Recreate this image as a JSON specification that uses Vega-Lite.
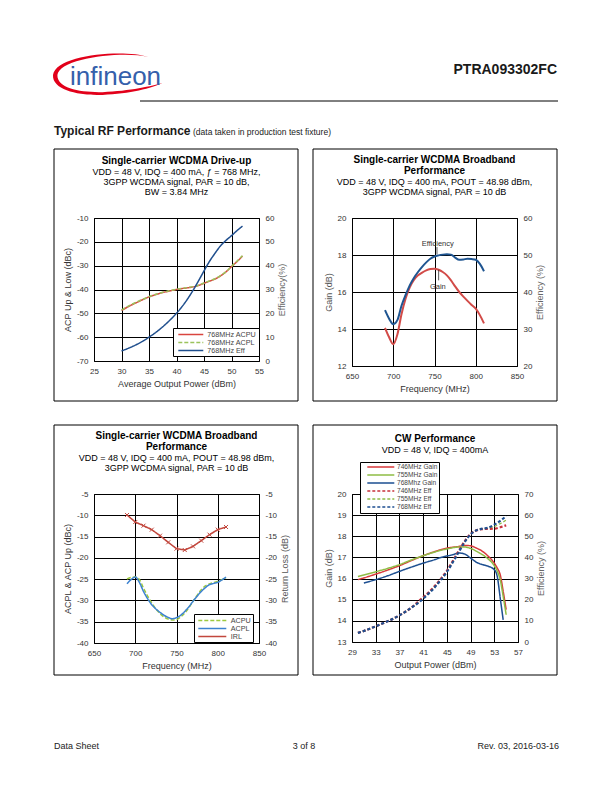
{
"$schema": "https://vega.github.io/schema/vega-lite/v6.json",
"padding": 0,
"autosize": {"type": "pad"},
"background": "white",
"config": {
  "font": "Liberation Sans",
  "view": {"stroke": "black", "strokeWidth": 1},
  "axis": {"domain": false, "ticks": false, "grid": false, "labelFont": "Liberation Sans", "labelFontSize": 8, "labelColor": "#333", "titleFont": "Liberation Sans", "titleFontSize": 9, "titleFontWeight": "normal", "titleColor": "#333", "labelPadding": 6, "titlePadding": 4, "labelFlush": false, "labelOverlap": false, "gridColor": "black", "gridOpacity": 1, "gridWidth": 1},
  "legend": {"labelFont": "Liberation Sans", "labelColor": "#444", "rowPadding": 0},
  "title": {"font": "Liberation Sans", "fontSize": 10, "fontWeight": "bold", "color": "black", "subtitleFont": "Liberation Sans", "subtitleFontSize": 9, "subtitleColor": "black", "anchor": "middle", "frame": "group", "lineHeight": 11, "subtitleLineHeight": 10, "subtitlePadding": 2}
},
"datasets": {
  "p1acp": [
    {"pout":30,"acp":-48.8,"series":"768MHz ACPU"},{"pout":31,"acp":-47.5,"series":"768MHz ACPU"},{"pout":32,"acp":-46.3,"series":"768MHz ACPU"},{"pout":33,"acp":-45.2,"series":"768MHz ACPU"},{"pout":34,"acp":-44.1,"series":"768MHz ACPU"},{"pout":35,"acp":-43.1,"series":"768MHz ACPU"},{"pout":36,"acp":-42.3,"series":"768MHz ACPU"},{"pout":37,"acp":-41.6,"series":"768MHz ACPU"},{"pout":38,"acp":-41.0,"series":"768MHz ACPU"},{"pout":39,"acp":-40.5,"series":"768MHz ACPU"},{"pout":40,"acp":-40.0,"series":"768MHz ACPU"},{"pout":41,"acp":-39.6,"series":"768MHz ACPU"},{"pout":42,"acp":-39.3,"series":"768MHz ACPU"},{"pout":43,"acp":-38.9,"series":"768MHz ACPU"},{"pout":44,"acp":-38.3,"series":"768MHz ACPU"},{"pout":45,"acp":-37.4,"series":"768MHz ACPU"},{"pout":46,"acp":-36.5,"series":"768MHz ACPU"},{"pout":47,"acp":-35.6,"series":"768MHz ACPU"},{"pout":48,"acp":-34.3,"series":"768MHz ACPU"},{"pout":49,"acp":-32.6,"series":"768MHz ACPU"},{"pout":50,"acp":-30.4,"series":"768MHz ACPU"},{"pout":51,"acp":-28.3,"series":"768MHz ACPU"},{"pout":52,"acp":-26.0,"series":"768MHz ACPU"},
    {"pout":30,"acp":-48.6,"series":"768MHz ACPL"},{"pout":31,"acp":-47.3,"series":"768MHz ACPL"},{"pout":32,"acp":-46.1,"series":"768MHz ACPL"},{"pout":33,"acp":-45.0,"series":"768MHz ACPL"},{"pout":34,"acp":-44.0,"series":"768MHz ACPL"},{"pout":35,"acp":-43.0,"series":"768MHz ACPL"},{"pout":36,"acp":-42.2,"series":"768MHz ACPL"},{"pout":37,"acp":-41.5,"series":"768MHz ACPL"},{"pout":38,"acp":-40.9,"series":"768MHz ACPL"},{"pout":39,"acp":-40.4,"series":"768MHz ACPL"},{"pout":40,"acp":-39.9,"series":"768MHz ACPL"},{"pout":41,"acp":-39.5,"series":"768MHz ACPL"},{"pout":42,"acp":-39.2,"series":"768MHz ACPL"},{"pout":43,"acp":-38.8,"series":"768MHz ACPL"},{"pout":44,"acp":-38.2,"series":"768MHz ACPL"},{"pout":45,"acp":-37.3,"series":"768MHz ACPL"},{"pout":46,"acp":-36.4,"series":"768MHz ACPL"},{"pout":47,"acp":-35.5,"series":"768MHz ACPL"},{"pout":48,"acp":-34.2,"series":"768MHz ACPL"},{"pout":49,"acp":-32.5,"series":"768MHz ACPL"},{"pout":50,"acp":-30.3,"series":"768MHz ACPL"},{"pout":51,"acp":-28.1,"series":"768MHz ACPL"},{"pout":52,"acp":-25.8,"series":"768MHz ACPL"}
  ],
  "p1eff": [
    {"pout":30,"eff":4.2,"series":"768MHz Eff"},{"pout":31,"eff":5.1,"series":"768MHz Eff"},{"pout":32,"eff":6.1,"series":"768MHz Eff"},{"pout":33,"eff":7.2,"series":"768MHz Eff"},{"pout":34,"eff":8.5,"series":"768MHz Eff"},{"pout":35,"eff":10.0,"series":"768MHz Eff"},{"pout":36,"eff":11.6,"series":"768MHz Eff"},{"pout":37,"eff":13.4,"series":"768MHz Eff"},{"pout":38,"eff":15.4,"series":"768MHz Eff"},{"pout":39,"eff":17.6,"series":"768MHz Eff"},{"pout":40,"eff":20.0,"series":"768MHz Eff"},{"pout":41,"eff":22.8,"series":"768MHz Eff"},{"pout":42,"eff":26.0,"series":"768MHz Eff"},{"pout":43,"eff":29.6,"series":"768MHz Eff"},{"pout":44,"eff":33.6,"series":"768MHz Eff"},{"pout":45,"eff":37.8,"series":"768MHz Eff"},{"pout":46,"eff":41.8,"series":"768MHz Eff"},{"pout":47,"eff":45.2,"series":"768MHz Eff"},{"pout":48,"eff":48.3,"series":"768MHz Eff"},{"pout":49,"eff":50.6,"series":"768MHz Eff"},{"pout":50,"eff":52.6,"series":"768MHz Eff"},{"pout":51,"eff":54.7,"series":"768MHz Eff"},{"pout":52,"eff":56.6,"series":"768MHz Eff"}
  ],
  "p2gain": [
    {"f":690,"gain":14.06},{"f":695,"gain":13.55},{"f":700,"gain":13.18},{"f":705,"gain":13.7},{"f":710,"gain":14.8},{"f":715,"gain":15.65},{"f":720,"gain":16.25},{"f":725,"gain":16.65},{"f":730,"gain":16.9},{"f":735,"gain":17.05},{"f":740,"gain":17.17},{"f":745,"gain":17.24},{"f":750,"gain":17.26},{"f":755,"gain":17.2},{"f":760,"gain":17.08},{"f":765,"gain":16.9},{"f":770,"gain":16.63},{"f":775,"gain":16.3},{"f":780,"gain":16.0},{"f":785,"gain":15.75},{"f":790,"gain":15.52},{"f":795,"gain":15.3},{"f":800,"gain":15.1},{"f":805,"gain":14.75},{"f":810,"gain":14.3}
  ],
  "p2eff": [
    {"f":690,"eff":35.1},{"f":695,"eff":32.8},{"f":700,"eff":31.3},{"f":705,"eff":32.4},{"f":710,"eff":36.3},{"f":715,"eff":39.2},{"f":720,"eff":41.8},{"f":725,"eff":43.8},{"f":730,"eff":45.4},{"f":735,"eff":46.8},{"f":740,"eff":48.0},{"f":745,"eff":49.0},{"f":750,"eff":49.6},{"f":755,"eff":49.9},{"f":760,"eff":50.1},{"f":765,"eff":50.2},{"f":770,"eff":50.1},{"f":775,"eff":49.3},{"f":780,"eff":48.7},{"f":785,"eff":48.8},{"f":790,"eff":49.0},{"f":795,"eff":48.9},{"f":800,"eff":48.7},{"f":805,"eff":47.6},{"f":810,"eff":45.6}
  ],
  "p2notes": [
    {"label":"Efficiency","f":754,"gain":18.61},{"label":"Gain","f":754,"gain":16.27}
  ],
  "p2leaders": [
    {"f":753,"g1":18.43,"g2":18.04},{"f":755,"g1":17.2,"g2":16.63}
  ],
  "p3acp": [
    {"f":690,"acp":-24.97,"series":"ACPU"},{"f":695,"acp":-24.6,"series":"ACPU"},{"f":700,"acp":-24.5,"series":"ACPU"},{"f":705,"acp":-25.1,"series":"ACPU"},{"f":710,"acp":-27.1,"series":"ACPU"},{"f":715,"acp":-29.0,"series":"ACPU"},{"f":720,"acp":-30.6,"series":"ACPU"},{"f":725,"acp":-32.0,"series":"ACPU"},{"f":730,"acp":-33.1,"series":"ACPU"},{"f":735,"acp":-33.9,"series":"ACPU"},{"f":740,"acp":-34.4,"series":"ACPU"},{"f":745,"acp":-34.6,"series":"ACPU"},{"f":750,"acp":-34.5,"series":"ACPU"},{"f":755,"acp":-33.9,"series":"ACPU"},{"f":760,"acp":-32.95,"series":"ACPU"},{"f":765,"acp":-31.7,"series":"ACPU"},{"f":770,"acp":-30.2,"series":"ACPU"},{"f":775,"acp":-28.8,"series":"ACPU"},{"f":780,"acp":-27.5,"series":"ACPU"},{"f":785,"acp":-26.6,"series":"ACPU"},{"f":790,"acp":-26.1,"series":"ACPU"},{"f":795,"acp":-25.8,"series":"ACPU"},{"f":800,"acp":-25.5,"series":"ACPU"},{"f":805,"acp":-25.1,"series":"ACPU"},{"f":810,"acp":-24.7,"series":"ACPU"},
    {"f":690,"acp":-26.1,"series":"ACPL"},{"f":695,"acp":-25.1,"series":"ACPL"},{"f":700,"acp":-24.5,"series":"ACPL"},{"f":705,"acp":-25.75,"series":"ACPL"},{"f":710,"acp":-27.9,"series":"ACPL"},{"f":715,"acp":-29.6,"series":"ACPL"},{"f":720,"acp":-31.0,"series":"ACPL"},{"f":725,"acp":-32.0,"series":"ACPL"},{"f":730,"acp":-32.8,"series":"ACPL"},{"f":735,"acp":-33.5,"series":"ACPL"},{"f":740,"acp":-34.0,"series":"ACPL"},{"f":745,"acp":-34.3,"series":"ACPL"},{"f":750,"acp":-34.05,"series":"ACPL"},{"f":755,"acp":-33.5,"series":"ACPL"},{"f":760,"acp":-32.6,"series":"ACPL"},{"f":765,"acp":-31.5,"series":"ACPL"},{"f":770,"acp":-30.2,"series":"ACPL"},{"f":775,"acp":-29.0,"series":"ACPL"},{"f":780,"acp":-27.9,"series":"ACPL"},{"f":785,"acp":-27.0,"series":"ACPL"},{"f":790,"acp":-26.3,"series":"ACPL"},{"f":795,"acp":-26.0,"series":"ACPL"},{"f":800,"acp":-25.75,"series":"ACPL"},{"f":805,"acp":-25.2,"series":"ACPL"},{"f":810,"acp":-24.5,"series":"ACPL"}
  ],
  "p3irl": [
    {"f":690,"rl":-9.93,"series":"IRL"},{"f":700,"rl":-11.58,"series":"IRL"},{"f":710,"rl":-12.44,"series":"IRL"},{"f":720,"rl":-13.38,"series":"IRL"},{"f":730,"rl":-14.79,"series":"IRL"},{"f":740,"rl":-16.35,"series":"IRL"},{"f":750,"rl":-17.84,"series":"IRL"},{"f":760,"rl":-18.16,"series":"IRL"},{"f":770,"rl":-17.3,"series":"IRL"},{"f":780,"rl":-15.96,"series":"IRL"},{"f":790,"rl":-14.55,"series":"IRL"},{"f":800,"rl":-13.38,"series":"IRL"},{"f":810,"rl":-12.75,"series":"IRL"}
  ],
  "p4gain": [
    {"pout":30,"gain":15.95,"series":"746MHz Gain"},{"pout":31,"gain":16.03,"series":"746MHz Gain"},{"pout":33,"gain":16.21,"series":"746MHz Gain"},{"pout":35,"gain":16.4,"series":"746MHz Gain"},{"pout":37,"gain":16.61,"series":"746MHz Gain"},{"pout":39,"gain":16.85,"series":"746MHz Gain"},{"pout":41,"gain":17.08,"series":"746MHz Gain"},{"pout":43,"gain":17.28,"series":"746MHz Gain"},{"pout":45,"gain":17.44,"series":"746MHz Gain"},{"pout":47,"gain":17.52,"series":"746MHz Gain"},{"pout":48,"gain":17.57,"series":"746MHz Gain"},{"pout":49,"gain":17.55,"series":"746MHz Gain"},{"pout":50,"gain":17.44,"series":"746MHz Gain"},{"pout":51,"gain":17.29,"series":"746MHz Gain"},{"pout":52,"gain":17.05,"series":"746MHz Gain"},{"pout":53,"gain":16.73,"series":"746MHz Gain"},{"pout":53.5,"gain":16.5,"series":"746MHz Gain"},{"pout":54,"gain":16.18,"series":"746MHz Gain"},{"pout":54.5,"gain":15.4,"series":"746MHz Gain"},{"pout":55,"gain":14.53,"series":"746MHz Gain"},
    {"pout":30,"gain":16.1,"series":"755MHz Gain"},{"pout":31,"gain":16.17,"series":"755MHz Gain"},{"pout":33,"gain":16.32,"series":"755MHz Gain"},{"pout":35,"gain":16.48,"series":"755MHz Gain"},{"pout":37,"gain":16.66,"series":"755MHz Gain"},{"pout":39,"gain":16.88,"series":"755MHz Gain"},{"pout":41,"gain":17.08,"series":"755MHz Gain"},{"pout":43,"gain":17.26,"series":"755MHz Gain"},{"pout":45,"gain":17.4,"series":"755MHz Gain"},{"pout":47,"gain":17.49,"series":"755MHz Gain"},{"pout":48,"gain":17.49,"series":"755MHz Gain"},{"pout":49,"gain":17.43,"series":"755MHz Gain"},{"pout":50,"gain":17.29,"series":"755MHz Gain"},{"pout":51,"gain":17.13,"series":"755MHz Gain"},{"pout":52,"gain":16.92,"series":"755MHz Gain"},{"pout":53,"gain":16.61,"series":"755MHz Gain"},{"pout":53.5,"gain":16.35,"series":"755MHz Gain"},{"pout":54,"gain":15.95,"series":"755MHz Gain"},{"pout":54.5,"gain":15.16,"series":"755MHz Gain"},{"pout":55,"gain":14.29,"series":"755MHz Gain"},
    {"pout":31,"gain":15.79,"series":"768Mhz Gain"},{"pout":33,"gain":15.95,"series":"768Mhz Gain"},{"pout":35,"gain":16.13,"series":"768Mhz Gain"},{"pout":37,"gain":16.34,"series":"768Mhz Gain"},{"pout":39,"gain":16.54,"series":"768Mhz Gain"},{"pout":41,"gain":16.73,"series":"768Mhz Gain"},{"pout":43,"gain":16.9,"series":"768Mhz Gain"},{"pout":44,"gain":17.0,"series":"768Mhz Gain"},{"pout":46,"gain":17.13,"series":"768Mhz Gain"},{"pout":47,"gain":17.21,"series":"768Mhz Gain"},{"pout":48,"gain":17.16,"series":"768Mhz Gain"},{"pout":49,"gain":16.97,"series":"768Mhz Gain"},{"pout":50,"gain":16.77,"series":"768Mhz Gain"},{"pout":51,"gain":16.66,"series":"768Mhz Gain"},{"pout":52,"gain":16.58,"series":"768Mhz Gain"},{"pout":53,"gain":16.42,"series":"768Mhz Gain"},{"pout":53.5,"gain":16.1,"series":"768Mhz Gain"},{"pout":54,"gain":15.08,"series":"768Mhz Gain"},{"pout":54.5,"gain":14.05,"series":"768Mhz Gain"}
  ],
  "p4eff": [
    {"pout":30,"eff":4.3,"series":"746MHz Eff"},{"pout":31,"eff":5.2,"series":"746MHz Eff"},{"pout":32,"eff":6.3,"series":"746MHz Eff"},{"pout":33,"eff":7.4,"series":"746MHz Eff"},{"pout":34,"eff":8.6,"series":"746MHz Eff"},{"pout":35,"eff":9.8,"series":"746MHz Eff"},{"pout":36,"eff":11.1,"series":"746MHz Eff"},{"pout":37,"eff":12.6,"series":"746MHz Eff"},{"pout":38,"eff":14.3,"series":"746MHz Eff"},{"pout":39,"eff":16.2,"series":"746MHz Eff"},{"pout":40,"eff":18.7,"series":"746MHz Eff"},{"pout":41,"eff":21.1,"series":"746MHz Eff"},{"pout":42,"eff":23.7,"series":"746MHz Eff"},{"pout":43,"eff":26.6,"series":"746MHz Eff"},{"pout":44,"eff":30.0,"series":"746MHz Eff"},{"pout":45,"eff":33.7,"series":"746MHz Eff"},{"pout":46,"eff":38.3,"series":"746MHz Eff"},{"pout":47,"eff":43.1,"series":"746MHz Eff"},{"pout":48,"eff":47.6,"series":"746MHz Eff"},{"pout":49,"eff":51.1,"series":"746MHz Eff"},{"pout":50,"eff":52.8,"series":"746MHz Eff"},{"pout":51,"eff":53.4,"series":"746MHz Eff"},{"pout":52,"eff":53.5,"series":"746MHz Eff"},{"pout":53,"eff":53.6,"series":"746MHz Eff"},{"pout":54,"eff":54.3,"series":"746MHz Eff"},{"pout":55,"eff":55.2,"series":"746MHz Eff"},
    {"pout":30,"eff":4.3,"series":"755MHz Eff"},{"pout":31,"eff":5.2,"series":"755MHz Eff"},{"pout":32,"eff":6.3,"series":"755MHz Eff"},{"pout":33,"eff":7.4,"series":"755MHz Eff"},{"pout":34,"eff":8.6,"series":"755MHz Eff"},{"pout":35,"eff":9.8,"series":"755MHz Eff"},{"pout":36,"eff":11.1,"series":"755MHz Eff"},{"pout":37,"eff":12.6,"series":"755MHz Eff"},{"pout":38,"eff":14.3,"series":"755MHz Eff"},{"pout":39,"eff":16.2,"series":"755MHz Eff"},{"pout":40,"eff":18.4,"series":"755MHz Eff"},{"pout":41,"eff":20.8,"series":"755MHz Eff"},{"pout":42,"eff":23.4,"series":"755MHz Eff"},{"pout":43,"eff":26.3,"series":"755MHz Eff"},{"pout":44,"eff":29.7,"series":"755MHz Eff"},{"pout":45,"eff":33.4,"series":"755MHz Eff"},{"pout":46,"eff":38.0,"series":"755MHz Eff"},{"pout":47,"eff":42.8,"series":"755MHz Eff"},{"pout":48,"eff":47.4,"series":"755MHz Eff"},{"pout":49,"eff":51.0,"series":"755MHz Eff"},{"pout":50,"eff":52.8,"series":"755MHz Eff"},{"pout":51,"eff":53.5,"series":"755MHz Eff"},{"pout":52,"eff":53.8,"series":"755MHz Eff"},{"pout":53,"eff":54.6,"series":"755MHz Eff"},{"pout":54,"eff":56.0,"series":"755MHz Eff"},{"pout":55,"eff":57.6,"series":"755MHz Eff"},
    {"pout":30,"eff":4.3,"series":"768MHz Eff"},{"pout":31,"eff":5.2,"series":"768MHz Eff"},{"pout":32,"eff":6.3,"series":"768MHz Eff"},{"pout":33,"eff":7.4,"series":"768MHz Eff"},{"pout":34,"eff":8.6,"series":"768MHz Eff"},{"pout":35,"eff":9.8,"series":"768MHz Eff"},{"pout":36,"eff":11.1,"series":"768MHz Eff"},{"pout":37,"eff":12.6,"series":"768MHz Eff"},{"pout":38,"eff":14.3,"series":"768MHz Eff"},{"pout":39,"eff":16.2,"series":"768MHz Eff"},{"pout":40,"eff":18.1,"series":"768MHz Eff"},{"pout":41,"eff":20.5,"series":"768MHz Eff"},{"pout":42,"eff":23.1,"series":"768MHz Eff"},{"pout":43,"eff":26.0,"series":"768MHz Eff"},{"pout":44,"eff":29.4,"series":"768MHz Eff"},{"pout":45,"eff":33.1,"series":"768MHz Eff"},{"pout":46,"eff":37.7,"series":"768MHz Eff"},{"pout":47,"eff":42.5,"series":"768MHz Eff"},{"pout":48,"eff":47.2,"series":"768MHz Eff"},{"pout":49,"eff":50.9,"series":"768MHz Eff"},{"pout":50,"eff":52.8,"series":"768MHz Eff"},{"pout":51,"eff":53.6,"series":"768MHz Eff"},{"pout":52,"eff":54.1,"series":"768MHz Eff"},{"pout":53,"eff":55.5,"series":"768MHz Eff"},{"pout":54,"eff":57.3,"series":"768MHz Eff"},{"pout":55,"eff":59.5,"series":"768MHz Eff"}
  ]
},
"columns": 2,
"bounds": "flush",
"align": "each",
"spacing": {"row": 128, "column": 93},
"resolve": {"scale": {"color": "independent", "strokeDash": "independent"}, "legend": {"color": "independent", "strokeDash": "independent"}},
"concat": [
  {
    "width": 165, "height": 1, "view": {"stroke": null},
    "data": {"values": [{"k": 1}]},
    "layer": [
      {"mark": {"type": "rect", "opacity": 0}, "encoding": {"x": {"value": -94}, "x2": {"value": 518}, "y": {"value": -89}, "y2": {"value": 703}}},
      {"mark": {"type": "point", "shape": "M0.73,-0.31 C0.3,-0.45 -0.95,-0.36 -1,0.02 C-1.02,0.3 -0.5,0.4 -0.1,0.38 C0.4,0.36 0.8,0.26 1,0.16 C0.8,0.22 0.4,0.31 -0.1,0.33 C-0.5,0.34 -0.93,0.26 -0.92,0.02 C-0.88,-0.3 0.3,-0.42 0.73,-0.31 Z", "size": 12100, "filled": true, "color": "#e2001a", "strokeWidth": 0, "opacity": 1}, "encoding": {"x": {"value": 14}, "y": {"value": -15}}},
      {"mark": {"type": "text", "text": "infineon", "font": "Liberation Sans", "fontSize": 26, "color": "#3560ab", "align": "left", "baseline": "alphabetic"}, "encoding": {"x": {"value": -24}, "y": {"value": -4}}},
      {"mark": {"type": "text", "text": "PTRA093302FC", "font": "Liberation Sans", "fontSize": 14, "fontWeight": "bold", "color": "#1a1a1a", "align": "right", "baseline": "alphabetic"}, "encoding": {"x": {"value": 463}, "y": {"value": -15}}},
      {"mark": {"type": "rule", "color": "black", "strokeWidth": 1}, "encoding": {"x": {"value": 46}, "x2": {"value": 464}, "y": {"value": 12}}},
      {"mark": {"type": "text", "text": "Typical RF Performance", "font": "Liberation Sans", "fontSize": 12, "fontWeight": "bold", "color": "#1a1a1a", "align": "left", "baseline": "alphabetic"}, "encoding": {"x": {"value": -40}, "y": {"value": 46}}},
      {"mark": {"type": "text", "text": "(data taken in production test fixture)", "font": "Liberation Sans", "fontSize": 8.5, "color": "#1a1a1a", "align": "left", "baseline": "alphabetic"}, "encoding": {"x": {"value": 99}, "y": {"value": 46}}},
      {"mark": {"type": "rect", "filled": false, "stroke": "black", "strokeWidth": 1}, "encoding": {"x": {"value": -40}, "x2": {"value": 204}, "y": {"value": 60}, "y2": {"value": 312}}},
      {"mark": {"type": "rect", "filled": false, "stroke": "black", "strokeWidth": 1}, "encoding": {"x": {"value": -40}, "x2": {"value": 204}, "y": {"value": 336}, "y2": {"value": 586}}},
      {"mark": {"type": "text", "text": "Data Sheet", "font": "Liberation Sans", "fontSize": 9, "color": "#222", "align": "left", "baseline": "alphabetic"}, "encoding": {"x": {"value": -40}, "y": {"value": 660}}},
      {"mark": {"type": "text", "text": "3 of 8", "font": "Liberation Sans", "fontSize": 9, "color": "#222", "align": "center", "baseline": "alphabetic"}, "encoding": {"x": {"value": 210}, "y": {"value": 660}}},
      {"mark": {"type": "text", "text": "Rev. 03, 2016-03-16", "font": "Liberation Sans", "fontSize": 9, "color": "#222", "align": "right", "baseline": "alphabetic"}, "encoding": {"x": {"value": 465}, "y": {"value": 660}}}
    ]
  },
  {
    "width": 165, "height": 1, "view": {"stroke": null},
    "data": {"values": [{"k": 1}]},
    "layer": [
      {"mark": {"type": "rect", "filled": false, "stroke": "black", "strokeWidth": 1}, "encoding": {"x": {"value": -39}, "x2": {"value": 205}, "y": {"value": 60}, "y2": {"value": 312}}},
      {"mark": {"type": "rect", "filled": false, "stroke": "black", "strokeWidth": 1}, "encoding": {"x": {"value": -39}, "x2": {"value": 205}, "y": {"value": 336}, "y2": {"value": 586}}}
    ]
  },
  {
    "width": 165, "height": 143,
    "title": {"text": "Single-carrier WCDMA Drive-up", "subtitle": ["VDD = 48 V, IDQ = 400 mA, ƒ = 768 MHz,", "3GPP WCDMA signal, PAR = 10 dB,", "BW = 3.84 MHz"], "offset": 17},
    "resolve": {"scale": {"y": "independent"}},
    "layer": [
      {
        "data": {"name": "p1acp"},
        "mark": {"type": "line", "strokeWidth": 1.5, "interpolate": "monotone"},
        "encoding": {
          "x": {"field": "pout", "type": "quantitative", "title": "Average Output Power (dBm)", "scale": {"domain": [25, 55], "nice": false}, "axis": {"values": [25, 30, 35, 40, 45, 50, 55], "grid": true}},
          "y": {"field": "acp", "type": "quantitative", "title": "ACP Up & Low (dBc)", "scale": {"domain": [-70, -10], "nice": false, "zero": false}, "axis": {"values": [-70, -60, -50, -40, -30, -20, -10], "grid": true, "labelExpr": "'' + datum.value"}},
          "color": {"field": "series", "type": "nominal", "scale": {"domain": ["768MHz ACPU", "768MHz ACPL", "768MHz Eff"], "range": ["#d9453f", "#9bc35c", "#1f4e8d"]}, "legend": {"title": null, "orient": "none", "legendX": 79, "legendY": 110, "direction": "vertical", "strokeColor": "black", "fillColor": "white", "padding": 2, "symbolType": "M-3.57,0L3.57,0", "symbolSize": 49, "symbolOffset": 11.3, "labelOffset": 12, "symbolStrokeWidth": 1.5, "labelFontSize": 7.2, "rowPadding": 0}},
          "strokeDash": {"field": "series", "type": "nominal", "scale": {"domain": ["768MHz ACPU", "768MHz ACPL", "768MHz Eff"], "range": [[1, 0], [4, 2], [1, 0]]}, "legend": {"title": null, "orient": "none", "legendX": 79, "legendY": 110, "direction": "vertical", "strokeColor": "black", "fillColor": "white", "padding": 2, "symbolType": "M-3.57,0L3.57,0", "symbolSize": 49, "symbolOffset": 11.3, "labelOffset": 12, "symbolStrokeWidth": 1.5, "labelFontSize": 7.2, "rowPadding": 0}}
        }
      },
      {
        "data": {"name": "p1eff"},
        "mark": {"type": "line", "strokeWidth": 1.5, "interpolate": "monotone"},
        "encoding": {
          "x": {"field": "pout", "type": "quantitative", "title": "Average Output Power (dBm)", "scale": {"domain": [25, 55], "nice": false}, "axis": {"values": [25, 30, 35, 40, 45, 50, 55], "grid": true}},
          "y": {"field": "eff", "type": "quantitative", "title": "Efficiency(%)", "scale": {"domain": [0, 60], "nice": false}, "axis": {"orient": "right", "values": [0, 10, 20, 30, 40, 50, 60], "titleColor": "#666", "titleAngle": -90, "titleBaseline": "top"}},
          "color": {"field": "series", "type": "nominal", "scale": {"domain": ["768MHz ACPU", "768MHz ACPL", "768MHz Eff"], "range": ["#d9453f", "#9bc35c", "#1f4e8d"]}, "legend": {"title": null, "orient": "none", "legendX": 79, "legendY": 110, "direction": "vertical", "strokeColor": "black", "fillColor": "white", "padding": 2, "symbolType": "M-3.57,0L3.57,0", "symbolSize": 49, "symbolOffset": 11.3, "labelOffset": 12, "symbolStrokeWidth": 1.5, "labelFontSize": 7.2, "rowPadding": 0}},
          "strokeDash": {"field": "series", "type": "nominal", "scale": {"domain": ["768MHz ACPU", "768MHz ACPL", "768MHz Eff"], "range": [[1, 0], [4, 2], [1, 0]]}, "legend": {"title": null, "orient": "none", "legendX": 79, "legendY": 110, "direction": "vertical", "strokeColor": "black", "fillColor": "white", "padding": 2, "symbolType": "M-3.57,0L3.57,0", "symbolSize": 49, "symbolOffset": 11.3, "labelOffset": 12, "symbolStrokeWidth": 1.5, "labelFontSize": 7.2, "rowPadding": 0}}
        }
      }
    ]
  },
  {
    "width": 165, "height": 148,
    "title": {"text": ["Single-carrier WCDMA Broadband", "Performance"], "subtitle": ["VDD = 48 V, IDQ = 400 mA, POUT = 48.98 dBm,", "3GPP WCDMA signal, PAR = 10 dB"], "offset": 17},
    "resolve": {"scale": {"y": "independent"}},
    "layer": [
      {
        "layer": [
          {
            "data": {"name": "p2gain"},
            "mark": {"type": "line", "color": "#d24b48", "strokeWidth": 2, "interpolate": "monotone"},
            "encoding": {
              "x": {"field": "f", "type": "quantitative", "title": "Frequency (MHz)", "scale": {"domain": [650, 850], "nice": false}, "axis": {"values": [650, 700, 750, 800, 850], "grid": true}},
              "y": {"field": "gain", "type": "quantitative", "title": "Gain (dB)", "scale": {"domain": [12, 20], "nice": false, "zero": false}, "axis": {"values": [12, 14, 16, 18, 20], "grid": true, "titleColor": "#555"}}
            }
          },
          {
            "data": {"name": "p2notes"},
            "mark": {"type": "text", "fontSize": 7.5, "color": "#333"},
            "encoding": {
              "x": {"field": "f", "type": "quantitative", "title": "Frequency (MHz)", "scale": {"domain": [650, 850], "nice": false}, "axis": {"values": [650, 700, 750, 800, 850], "grid": true}},
              "y": {"field": "gain", "type": "quantitative", "title": "Gain (dB)", "scale": {"domain": [12, 20], "nice": false, "zero": false}, "axis": {"values": [12, 14, 16, 18, 20], "grid": true, "titleColor": "#555"}},
              "text": {"field": "label"}
            }
          },
          {
            "data": {"name": "p2leaders"},
            "mark": {"type": "rule", "color": "#333", "strokeWidth": 0.8},
            "encoding": {
              "x": {"field": "f", "type": "quantitative", "title": "Frequency (MHz)", "scale": {"domain": [650, 850], "nice": false}, "axis": {"values": [650, 700, 750, 800, 850], "grid": true}},
              "y": {"field": "g1", "type": "quantitative", "title": "Gain (dB)", "scale": {"domain": [12, 20], "nice": false, "zero": false}, "axis": {"values": [12, 14, 16, 18, 20], "grid": true, "titleColor": "#555"}},
              "y2": {"field": "g2"}
            }
          }
        ]
      },
      {
        "data": {"name": "p2eff"},
        "mark": {"type": "line", "color": "#1f5591", "strokeWidth": 2, "interpolate": "monotone"},
        "encoding": {
          "x": {"field": "f", "type": "quantitative", "title": "Frequency (MHz)", "scale": {"domain": [650, 850], "nice": false}, "axis": {"values": [650, 700, 750, 800, 850], "grid": true}},
          "y": {"field": "eff", "type": "quantitative", "title": "Efficiency (%)", "scale": {"domain": [20, 60], "nice": false, "zero": false}, "axis": {"orient": "right", "values": [20, 30, 40, 50, 60], "titleColor": "#666", "titleAngle": -90, "titleBaseline": "top"}}
        }
      }
    ]
  },
  {
    "width": 165, "height": 149,
    "title": {"text": ["Single-carrier WCDMA Broadband", "Performance"], "subtitle": ["VDD = 48 V, IDQ = 400 mA, POUT = 48.98 dBm,", "3GPP WCDMA signal, PAR = 10 dB"], "offset": 17},
    "resolve": {"scale": {"y": "independent"}},
    "layer": [
      {
        "data": {"name": "p3acp"},
        "mark": {"type": "line", "strokeWidth": 1.5, "interpolate": "monotone"},
        "encoding": {
          "x": {"field": "f", "type": "quantitative", "title": "Frequency (MHz)", "scale": {"domain": [650, 850], "nice": false}, "axis": {"values": [650, 700, 750, 800, 850], "grid": true}},
          "y": {"field": "acp", "type": "quantitative", "title": "ACPL & ACP Up (dBc)", "scale": {"domain": [-40, -5], "nice": false, "zero": false}, "axis": {"values": [-40, -35, -30, -25, -20, -15, -10, -5], "grid": true, "labelExpr": "'' + datum.value"}},
          "color": {"field": "series", "type": "nominal", "scale": {"domain": ["ACPU", "ACPL", "IRL"], "range": ["#9dc93f", "#3d82d0", "#c2473d"]}, "legend": {"title": null, "orient": "none", "legendX": 100, "legendY": 120, "direction": "vertical", "strokeColor": "black", "fillColor": "white", "padding": 2, "symbolType": "M-4,0L4,0", "symbolSize": 49, "symbolOffset": 11.8, "labelOffset": 14, "symbolStrokeWidth": 1.5, "labelFontSize": 7.2, "rowPadding": 0}},
          "strokeDash": {"field": "series", "type": "nominal", "scale": {"domain": ["ACPU", "ACPL", "IRL"], "range": [[4, 2], [1, 0], [1, 0]]}, "legend": {"title": null, "orient": "none", "legendX": 100, "legendY": 120, "direction": "vertical", "strokeColor": "black", "fillColor": "white", "padding": 2, "symbolType": "M-4,0L4,0", "symbolSize": 49, "symbolOffset": 11.8, "labelOffset": 14, "symbolStrokeWidth": 1.5, "labelFontSize": 7.2, "rowPadding": 0}}
        }
      },
      {
        "data": {"name": "p3irl"},
        "layer": [
          {
            "mark": {"type": "line", "strokeWidth": 1.5},
            "encoding": {
              "x": {"field": "f", "type": "quantitative", "title": "Frequency (MHz)", "scale": {"domain": [650, 850], "nice": false}, "axis": {"values": [650, 700, 750, 800, 850], "grid": true}},
              "y": {"field": "rl", "type": "quantitative", "title": "Return Loss (dB)", "scale": {"domain": [-40, -5], "nice": false, "zero": false}, "axis": {"orient": "right", "values": [-40, -35, -30, -25, -20, -15, -10, -5], "titleColor": "#555", "titleAngle": -90, "titleBaseline": "top", "labelExpr": "'' + datum.value"}},
              "color": {"field": "series", "type": "nominal", "scale": {"domain": ["ACPU", "ACPL", "IRL"], "range": ["#9dc93f", "#3d82d0", "#c2473d"]}, "legend": {"title": null, "orient": "none", "legendX": 100, "legendY": 120, "direction": "vertical", "strokeColor": "black", "fillColor": "white", "padding": 2, "symbolType": "M-4,0L4,0", "symbolSize": 49, "symbolOffset": 11.8, "labelOffset": 14, "symbolStrokeWidth": 1.5, "labelFontSize": 7.2, "rowPadding": 0}},
              "strokeDash": {"field": "series", "type": "nominal", "scale": {"domain": ["ACPU", "ACPL", "IRL"], "range": [[4, 2], [1, 0], [1, 0]]}, "legend": {"title": null, "orient": "none", "legendX": 100, "legendY": 120, "direction": "vertical", "strokeColor": "black", "fillColor": "white", "padding": 2, "symbolType": "M-4,0L4,0", "symbolSize": 49, "symbolOffset": 11.8, "labelOffset": 14, "symbolStrokeWidth": 1.5, "labelFontSize": 7.2, "rowPadding": 0}}
            }
          },
          {
            "mark": {"type": "point", "shape": "M-1,-1L1,1M-1,1L1,-1", "filled": false, "color": "#c2473d", "size": 16, "strokeWidth": 1, "opacity": 1},
            "encoding": {
              "x": {"field": "f", "type": "quantitative", "title": "Frequency (MHz)", "scale": {"domain": [650, 850], "nice": false}, "axis": {"values": [650, 700, 750, 800, 850], "grid": true}},
              "y": {"field": "rl", "type": "quantitative", "title": "Return Loss (dB)", "scale": {"domain": [-40, -5], "nice": false, "zero": false}, "axis": {"orient": "right", "values": [-40, -35, -30, -25, -20, -15, -10, -5], "titleColor": "#555", "titleAngle": -90, "titleBaseline": "top", "labelExpr": "'' + datum.value"}}
            }
          }
        ]
      }
    ]
  },
  {
    "width": 166, "height": 148,
    "title": {"text": "CW Performance", "subtitle": "VDD = 48 V, IDQ = 400mA", "offset": 7},
    "resolve": {"scale": {"y": "independent"}},
    "layer": [
      {
        "data": {"name": "p4gain"},
        "mark": {"type": "line", "strokeWidth": 1.5, "interpolate": "monotone"},
        "encoding": {
          "x": {"field": "pout", "type": "quantitative", "title": "Output Power (dBm)", "scale": {"domain": [29, 57], "nice": false}, "axis": {"values": [29, 33, 37, 41, 45, 49, 53, 57], "grid": true}},
          "y": {"field": "gain", "type": "quantitative", "title": "Gain (dB)", "scale": {"domain": [13, 20], "nice": false, "zero": false}, "axis": {"values": [13, 14, 15, 16, 17, 18, 19, 20], "grid": true, "titleColor": "#555"}},
          "color": {"field": "series", "type": "nominal", "scale": {"domain": ["746MHz Gain", "755MHz Gain", "768Mhz Gain", "746MHz Eff", "755MHz Eff", "768MHz Eff"], "range": ["#d8393b", "#8fbd46", "#1d4f91", "#c8323a", "#8fbd46", "#1d4f91"]}, "legend": {"title": null, "orient": "none", "legendX": 8, "legendY": -32, "direction": "vertical", "strokeColor": "black", "fillColor": "white", "padding": 1.5, "symbolType": "M-5.4,0L5.4,0", "symbolSize": 25, "symbolOffset": 15.8, "labelOffset": 12.7, "symbolStrokeWidth": 1.5, "labelFontSize": 6.6, "rowPadding": 0}},
          "strokeDash": {"field": "series", "type": "nominal", "scale": {"domain": ["746MHz Gain", "755MHz Gain", "768Mhz Gain", "746MHz Eff", "755MHz Eff", "768MHz Eff"], "range": [[1, 0], [1, 0], [1, 0], [3, 2], [3, 2], [3, 2]]}, "legend": {"title": null, "orient": "none", "legendX": 8, "legendY": -32, "direction": "vertical", "strokeColor": "black", "fillColor": "white", "padding": 1.5, "symbolType": "M-5.4,0L5.4,0", "symbolSize": 25, "symbolOffset": 15.8, "labelOffset": 12.7, "symbolStrokeWidth": 1.5, "labelFontSize": 6.6, "rowPadding": 0}}
        }
      },
      {
        "data": {"name": "p4eff"},
        "layer": [
          {
            "transform": [{"filter": "datum.series === '755MHz Eff'"}],
            "mark": {"type": "line", "strokeWidth": 1.2, "interpolate": "monotone"},
            "encoding": {
              "x": {"field": "pout", "type": "quantitative", "title": "Output Power (dBm)", "scale": {"domain": [29, 57], "nice": false}, "axis": {"values": [29, 33, 37, 41, 45, 49, 53, 57], "grid": true}},
              "y": {"field": "eff", "type": "quantitative", "title": "Efficiency (%)", "scale": {"domain": [0, 70], "nice": false}, "axis": {"orient": "right", "values": [0, 10, 20, 30, 40, 50, 60, 70], "titleColor": "#666", "titleAngle": -90, "titleBaseline": "top"}},
              "color": {"field": "series", "type": "nominal", "scale": {"domain": ["746MHz Gain", "755MHz Gain", "768Mhz Gain", "746MHz Eff", "755MHz Eff", "768MHz Eff"], "range": ["#d8393b", "#8fbd46", "#1d4f91", "#c8323a", "#8fbd46", "#1d4f91"]}, "legend": {"title": null, "orient": "none", "legendX": 8, "legendY": -32, "direction": "vertical", "strokeColor": "black", "fillColor": "white", "padding": 1.5, "symbolType": "M-5.4,0L5.4,0", "symbolSize": 25, "symbolOffset": 15.8, "labelOffset": 12.7, "symbolStrokeWidth": 1.5, "labelFontSize": 6.6, "rowPadding": 0}},
              "strokeDash": {"field": "series", "type": "nominal", "scale": {"domain": ["746MHz Gain", "755MHz Gain", "768Mhz Gain", "746MHz Eff", "755MHz Eff", "768MHz Eff"], "range": [[1, 0], [1, 0], [1, 0], [3, 2], [3, 2], [3, 2]]}, "legend": {"title": null, "orient": "none", "legendX": 8, "legendY": -32, "direction": "vertical", "strokeColor": "black", "fillColor": "white", "padding": 1.5, "symbolType": "M-5.4,0L5.4,0", "symbolSize": 25, "symbolOffset": 15.8, "labelOffset": 12.7, "symbolStrokeWidth": 1.5, "labelFontSize": 6.6, "rowPadding": 0}}
            }
          },
          {
            "transform": [{"filter": "datum.series !== '755MHz Eff'"}],
            "mark": {"type": "line", "strokeWidth": 2.2, "interpolate": "monotone"},
            "encoding": {
              "x": {"field": "pout", "type": "quantitative", "title": "Output Power (dBm)", "scale": {"domain": [29, 57], "nice": false}, "axis": {"values": [29, 33, 37, 41, 45, 49, 53, 57], "grid": true}},
              "y": {"field": "eff", "type": "quantitative", "title": "Efficiency (%)", "scale": {"domain": [0, 70], "nice": false}, "axis": {"orient": "right", "values": [0, 10, 20, 30, 40, 50, 60, 70], "titleColor": "#666", "titleAngle": -90, "titleBaseline": "top"}},
              "color": {"field": "series", "type": "nominal", "scale": {"domain": ["746MHz Gain", "755MHz Gain", "768Mhz Gain", "746MHz Eff", "755MHz Eff", "768MHz Eff"], "range": ["#d8393b", "#8fbd46", "#1d4f91", "#c8323a", "#8fbd46", "#1d4f91"]}, "legend": {"title": null, "orient": "none", "legendX": 8, "legendY": -32, "direction": "vertical", "strokeColor": "black", "fillColor": "white", "padding": 1.5, "symbolType": "M-5.4,0L5.4,0", "symbolSize": 25, "symbolOffset": 15.8, "labelOffset": 12.7, "symbolStrokeWidth": 1.5, "labelFontSize": 6.6, "rowPadding": 0}},
              "strokeDash": {"field": "series", "type": "nominal", "scale": {"domain": ["746MHz Gain", "755MHz Gain", "768Mhz Gain", "746MHz Eff", "755MHz Eff", "768MHz Eff"], "range": [[1, 0], [1, 0], [1, 0], [3, 2], [3, 2], [3, 2]]}, "legend": {"title": null, "orient": "none", "legendX": 8, "legendY": -32, "direction": "vertical", "strokeColor": "black", "fillColor": "white", "padding": 1.5, "symbolType": "M-5.4,0L5.4,0", "symbolSize": 25, "symbolOffset": 15.8, "labelOffset": 12.7, "symbolStrokeWidth": 1.5, "labelFontSize": 6.6, "rowPadding": 0}}
            }
          }
        ]
      }
    ]
  }
]
}
